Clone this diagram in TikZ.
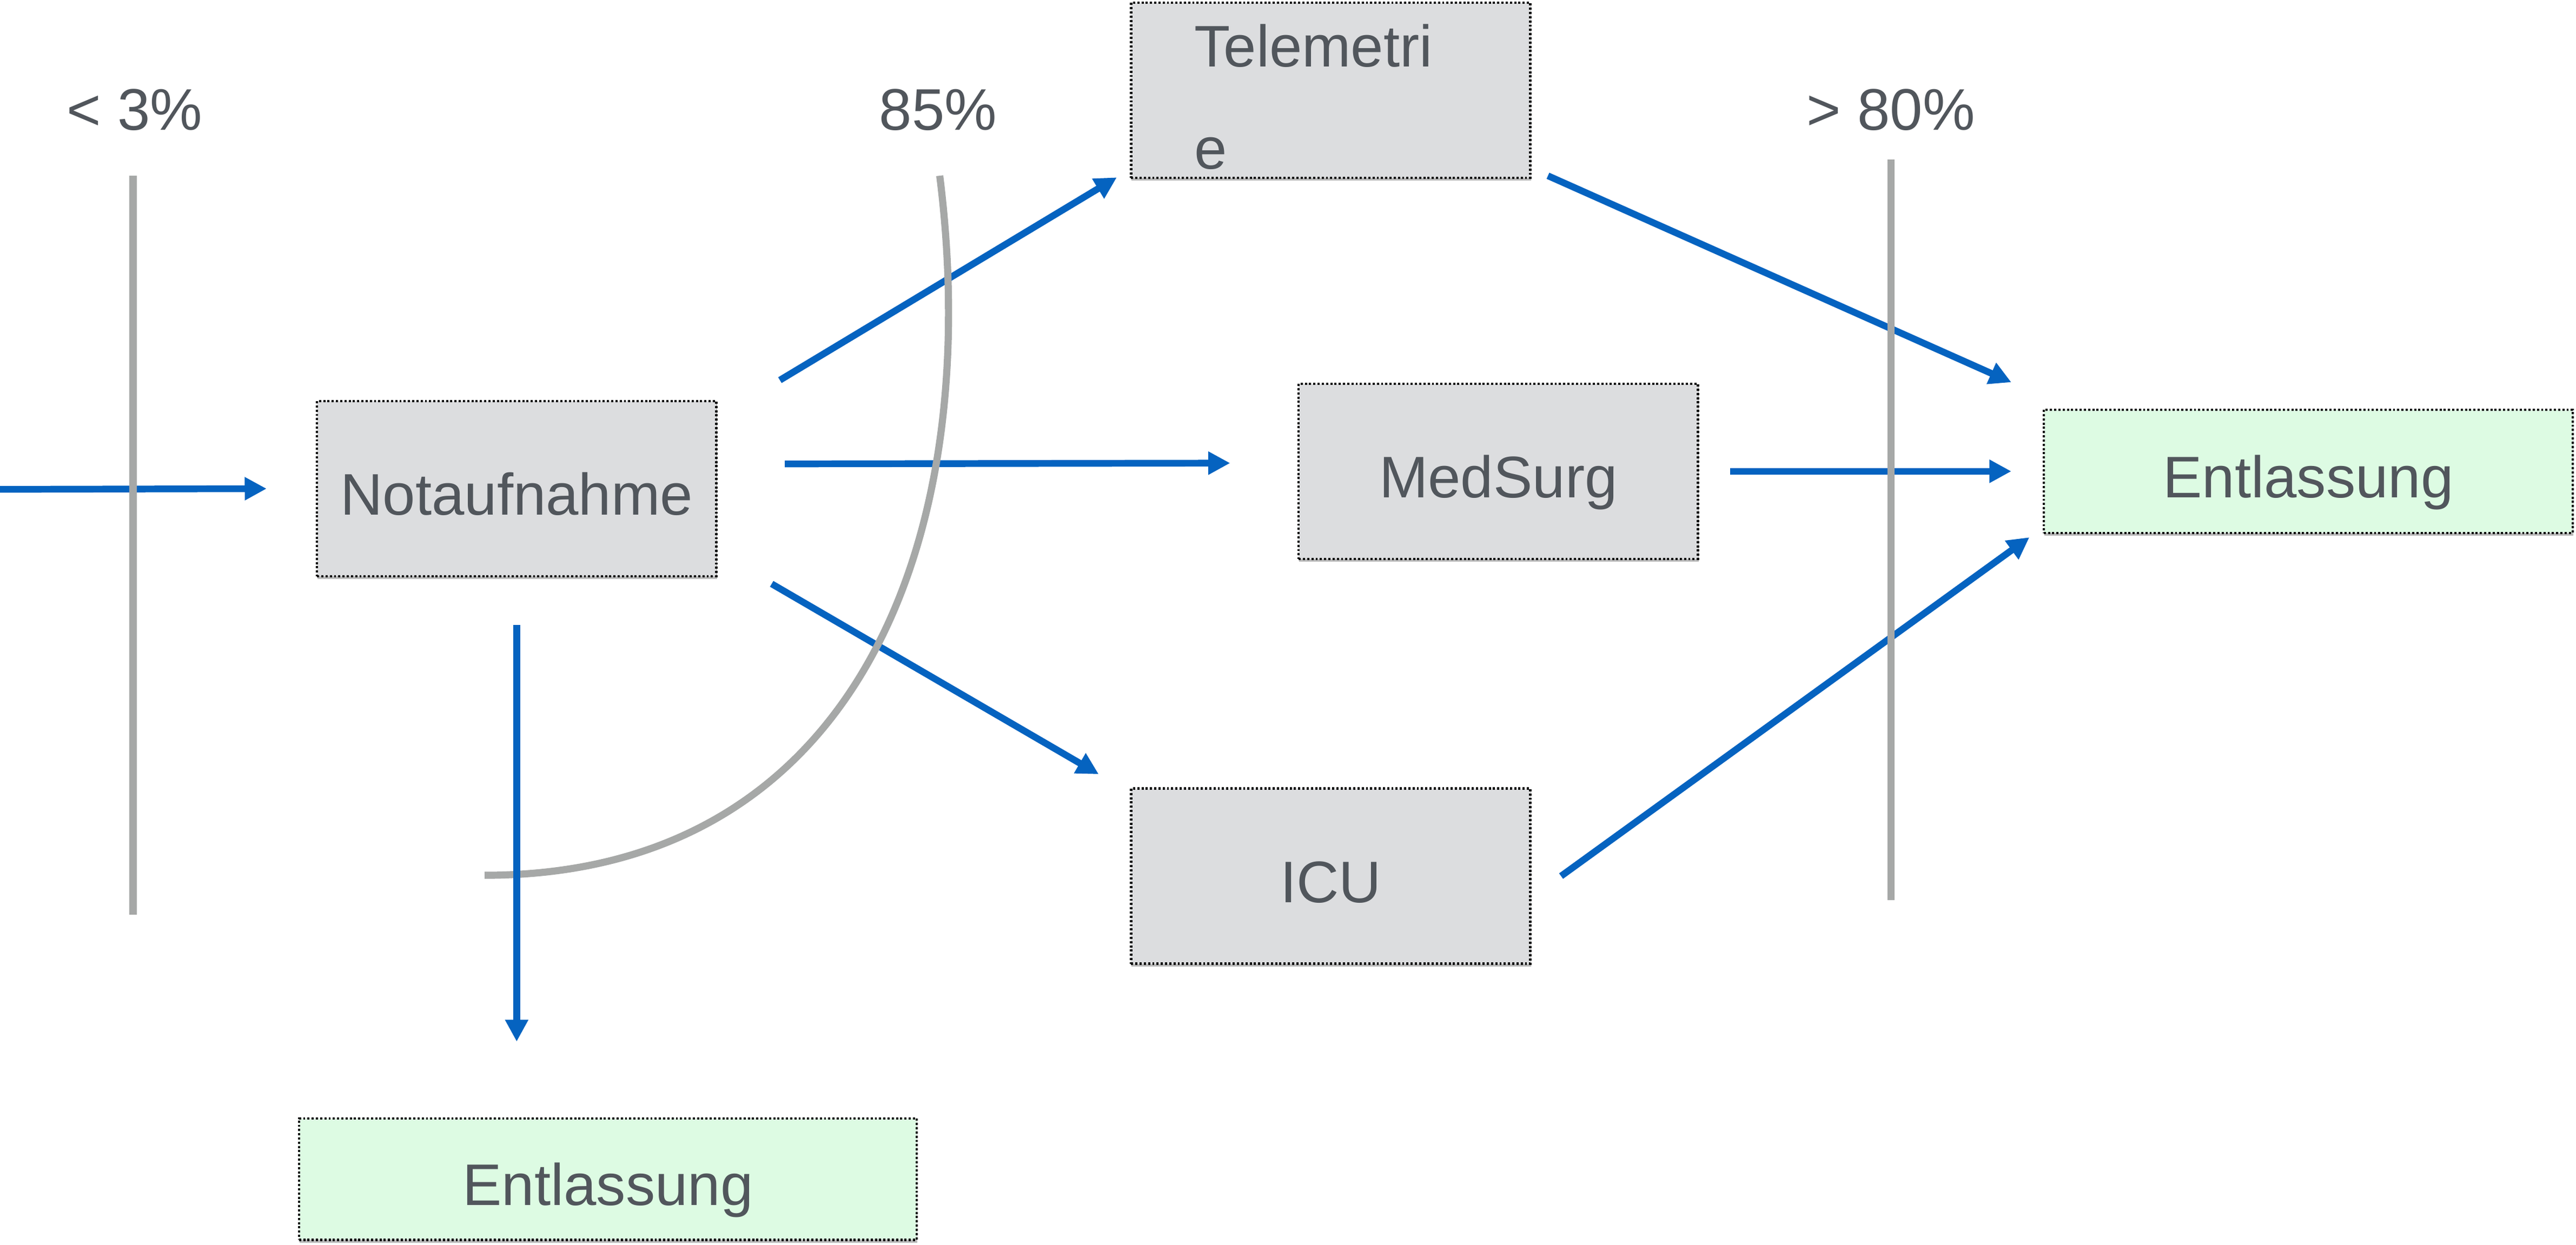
\documentclass[tikz,border=0pt]{standalone}
\usepackage{fontspec}
\setmainfont{Liberation Sans}
\usetikzlibrary{arrows.meta,shadows}
\definecolor{txtgray}{HTML}{51565C}
\definecolor{boxgray}{HTML}{DCDDDF}
\definecolor{boxgreen}{HTML}{DDFBE3}
\definecolor{flowblue}{HTML}{0563C0}
\definecolor{linegray}{HTML}{A6A8A7}
\begin{document}
\begin{tikzpicture}[x=0.03cm,y=-0.03cm,
    font=\fontsize{30.5}{53}\selectfont, text=txtgray,
    ward/.style={draw=black, line width=1.2pt, dash pattern=on 1.1pt off 1.1pt,
        fill=boxgray, minimum width=7.29cm, minimum height=3.2cm, inner sep=0pt,
        drop shadow={shadow xshift=0.3pt, shadow yshift=-1.5pt, opacity=0.45, fill=black!60}},
    station/.style={ward, text height=27.5pt, text depth=0pt},
    entlbox/.style={station, fill=boxgreen, minimum height=2.25cm},
    flow/.style={draw=flowblue, line width=3.5pt, -{Triangle[length=0.4cm,width=0.4cm]}},
    cut/.style={draw=linegray, line width=3.7pt}]
                \useasboundingbox (0,0) rectangle (1568,758);
                % stations
                \node[station] (nota) at (314.5,297.5) {Notaufnahme};
                \node[ward, align=left, text width=4.98cm] (tele) at (810,55) {\rule{0pt}{29pt}Telemetri\\e};
                \node[station] (med) at (912,287) {MedSurg};
                \node[station] (icu) at (810,533.5) {ICU};
                \node[entlbox, minimum width=9.66cm] (entlR) at (1405,287) {Entlassung};
                \node[entlbox, minimum width=11.28cm, minimum height=2.22cm] (entlB) at (370,718) {Entlassung};
                % shares
                \node (lt3) at (82,67) {< 3\%};
                \node (p85) at (571,67) {85\%};
                \node (gt80) at (1151,67) {> 80\%};
                % flows
                \coordinate (start) at (0,298);
                \draw[flow, shorten >=0.9cm] (start) -- (nota.west);
                \draw[flow] ([shift={(38,-66)}]nota.east) -- ([shift={(-8,-1)}]tele.south west);
                \draw[flow] ([shift={(41,-15)}]nota.east) -- ([shift={(-41,-5)}]med.west);
                \draw[flow] ([shift={(33,4)}]nota.south east) -- ([shift={(-19,-8)}]icu.north west);
                \draw[flow] ([shift={(10,-2)}]tele.south east) -- ([shift={(-19,-16)}]entlR.north west);
                \draw[flow, shorten <=0.57cm, shorten >=0.57cm] (med.east) -- (entlR.west);
                \draw[flow] ([shift={(18,0)}]icu.east) -- ([shift={(-8,2)}]entlR.south west);
                % cuts
                \draw[cut] (81,107) -- (81,557);
                \draw[cut] (1151,97) -- (1151,548);
                \draw[cut] (295,533) .. controls (520,533) and (600,330) .. (572,107);
                \draw[flow, shorten <=0.87cm, shorten >=1.38cm] (nota.south) -- (nota.south |- entlB.north);
            \end{tikzpicture}
\end{document}
